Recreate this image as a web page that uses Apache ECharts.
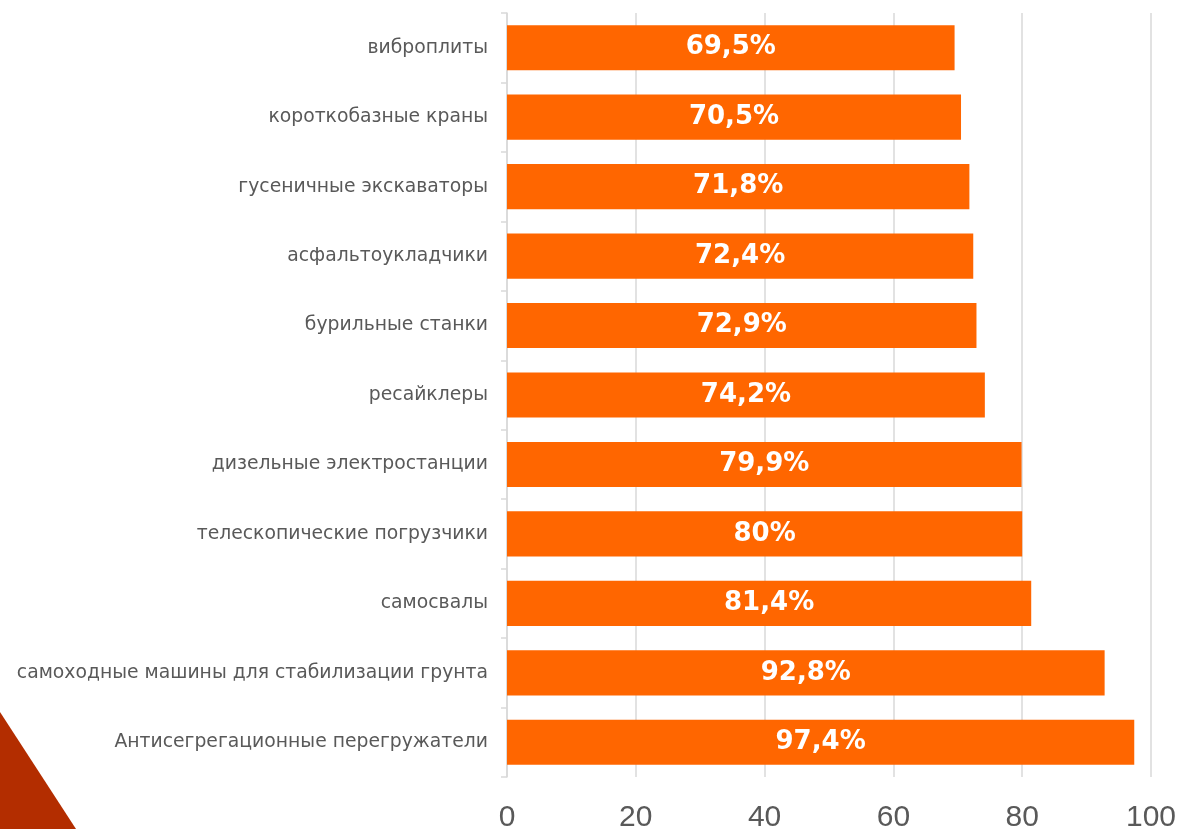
<!DOCTYPE html>
<html>
<head>
<meta charset="utf-8">
<script src="https://cdn.jsdelivr.net/npm/echarts@6/dist/echarts.min.js"></script>
<style>
html,body{margin:0;padding:0;background:#fff;}
#chart{width:1181px;height:829px;}
</style>
</head>
<body>
<div id="chart"></div>
<script>
const categories = [
  "виброплиты",
  "короткобазные краны",
  "гусеничные экскаваторы",
  "асфальтоукладчики",
  "бурильные станки",
  "ресайклеры",
  "дизельные электростанции",
  "телескопические погрузчики",
  "самосвалы",
  "самоходные машины для стабилизации грунта",
  "Антисегрегационные перегружатели"
];
const values = [69.5, 70.5, 71.8, 72.4, 72.9, 74.2, 79.9, 80, 81.4, 92.8, 97.4];
const xTicks = [0, 20, 40, 60, 80, 100];

const chart = echarts.init(document.getElementById('chart'));
chart.setOption({
  backgroundColor: '#ffffff',
  animation: false,
  grid: { left: 507, right: 30, top: 13, bottom: 52, containLabel: false, outerBoundsMode: 'none' },
  xAxis: {
    type: 'value',
    min: xTicks[0],
    max: xTicks[xTicks.length - 1],
    interval: 20,
    axisLine: { show: false },
    axisTick: { show: false },
    splitLine: { show: true, lineStyle: { color: '#d9d9d9', width: 1.5 } },
    axisLabel: {
      color: '#595959',
      fontSize: 30,
      fontFamily: 'Liberation Sans, Arial, sans-serif',
      margin: 26
    }
  },
  yAxis: {
    type: 'category',
    inverse: true,
    data: categories,
    axisLine: { show: true, lineStyle: { color: '#d9d9d9', width: 1.5 } },
    axisTick: { show: true, length: 6, lineStyle: { color: '#d9d9d9', width: 1.5 } },
    axisLabel: {
      color: '#595959',
      fontSize: 18.8,
      fontFamily: '"DejaVu Sans", sans-serif',
      margin: 19
    }
  },
  series: [{
    type: 'bar',
    data: values,
    barCategoryGap: '35%',
    itemStyle: { color: '#ff6600' },
    label: {
      show: true,
      position: 'inside',
      color: '#ffffff',
      fontSize: 26,
      fontWeight: 'bold',
      fontFamily: '"DejaVu Sans", sans-serif',
      formatter: p => String(p.value).replace('.', ',') + '%'
    }
  }],
  graphic: [{
    type: 'polygon',
    silent: true,
    z: -1,
    shape: { points: [[0, 712], [76, 829], [0, 829]] },
    style: { fill: '#b32d00' }
  }]
});
</script>
</body>
</html>
